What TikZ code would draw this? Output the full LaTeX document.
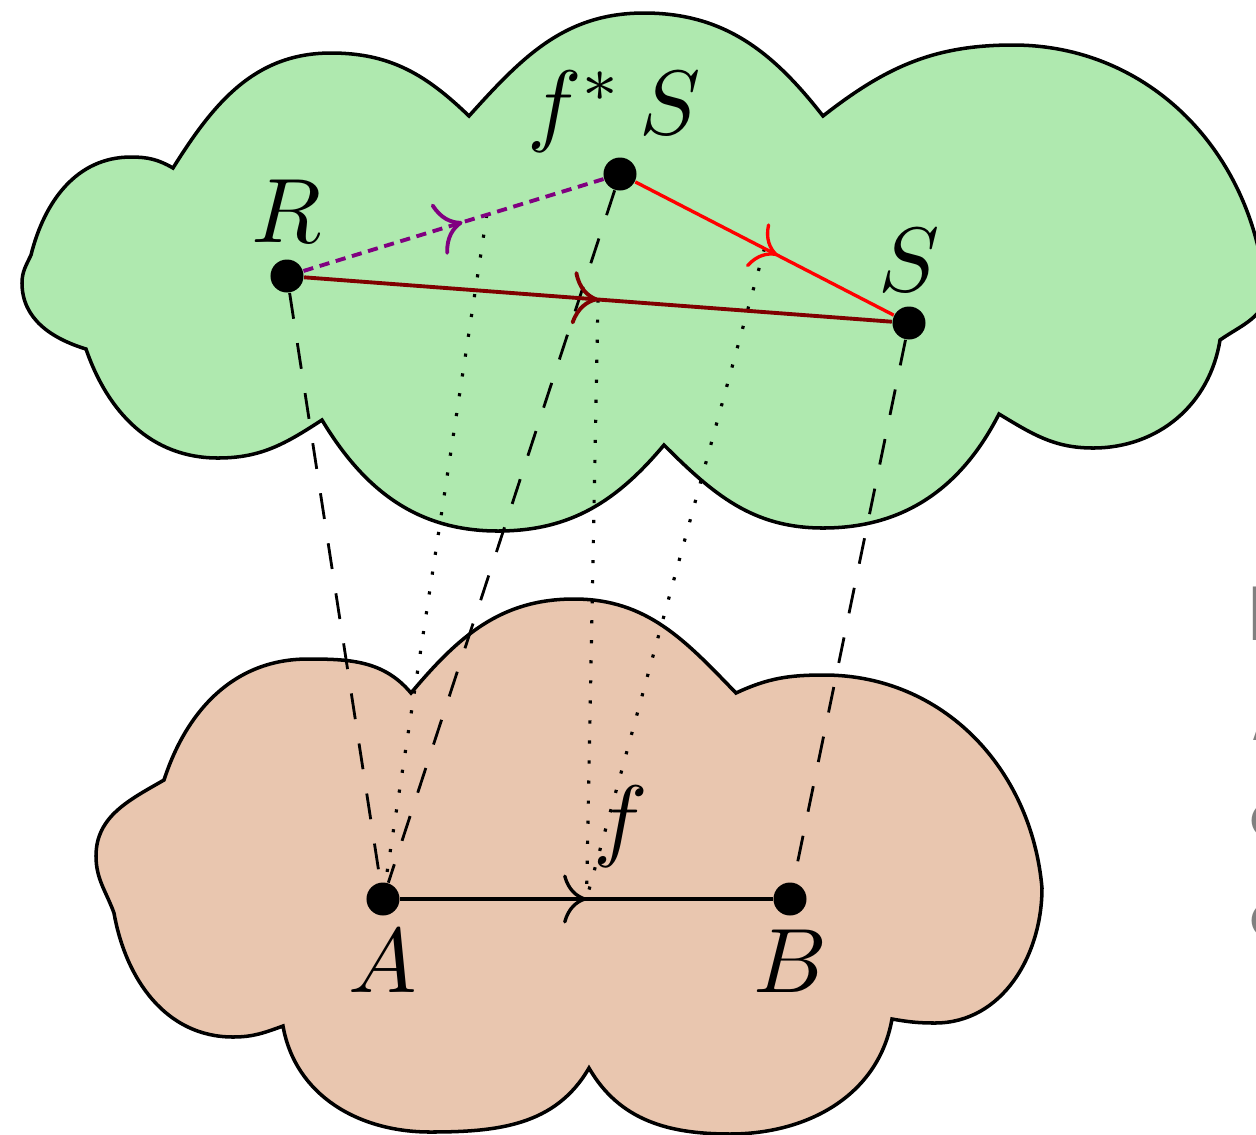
\documentclass[tikz,border=0pt]{standalone}
\usepackage{amsmath}
\usepackage{graphicx}
\usetikzlibrary{arrows.meta, positioning, calc, decorations.markings}

\definecolor{cloudgreen}{HTML}{AFE9AF}
\definecolor{cloudpeach}{HTML}{E9C6AF}
\definecolor{edgepurple}{HTML}{800080}
\definecolor{edgemaroon}{HTML}{800000}
\newcommand{\ptlabel}[1]{\scalebox{2.6}{$#1$}}

\begin{document}
\begin{tikzpicture}[
    x=0.01cm, y=0.01cm,
    cloud/.style={draw=black, line width=1pt},
    point/.style={circle, fill=black, inner sep=0pt, minimum size=0.33cm},
    lbl/.style={inner sep=0pt},
    frag/.style={inner sep=0pt, text=gray, font=\sffamily\fontsize{22}{26}\selectfont},
    edge/.style={line width=0.95pt},
    midarrow/.style={postaction={decorate}, decoration={markings,
        mark=at position #1 with {\arrow{To[scale=1.8]}}}},
    midarrow/.default=0.5,
    proj/.style={line width=0.8pt, dash pattern=on 7.4pt off 7pt},
    lift/.style={line width=0.9pt, dash pattern=on 0.9pt off 4.8pt},
]
\useasboundingbox (0,0) rectangle (1256,-1135);

% Upper cloud
\draw[cloud, fill=cloudgreen]
  (31,-255) to[out=76,in=180] (131,-157) to[out=0,in=150] (173,-168)
  to[out=58,in=180] (331,-53) to[out=0,in=136] (469,-116)
  to[out=48,in=180] (644,-13) to[out=0,in=128] (823,-116)
  to[out=38,in=180] (1013,-45) to[out=0,in=95] (1265,-290)
  to[out=-85,in=35] (1220,-340)
  to[out=-99,in=0] (1093,-448) to[out=180,in=-31] (999,-414)
  to[out=-117,in=0] (823,-528) to[out=180,in=-45] (664,-445)
  to[out=-130,in=0] (498,-531) to[out=180,in=-59] (322,-420)
  to[out=-147,in=0] (218,-458) to[out=180,in=-71] (86,-349)
  to[out=163,in=-90] (22,-283) to[out=90,in=-115] (31,-255) -- cycle;

% Lower cloud
\draw[cloud, fill=cloudpeach]
  (411,-693) to[out=50,in=180] (574,-599) to[out=0,in=134] (736,-693)
  to[out=25,in=180] (824,-675) to[out=0,in=95] (1042,-888)
  to[out=-90,in=0] (935,-1023) to[out=180,in=-10] (892,-1019)
  to[out=-100,in=0] (730,-1134) to[out=180,in=-60] (589,-1068)
  to[out=-120,in=0] (430,-1132) to[out=180,in=-80] (283,-1026)
  to[out=-160,in=0] (233,-1037) to[out=180,in=-80] (114,-913)
  to[out=110,in=-90] (96,-856) to[out=90,in=-150] (164,-780)
  to[out=72,in=180] (308,-659) to[out=0,in=130] (411,-693) -- cycle;

% Points
\node[point] (R) at (287,-276) {};
\node[point] (fS) at (620,-174) {};
\node[point] (S) at (909,-323) {};
\node[point] (A) at (383,-899) {};
\node[point] (B) at (790,-899) {};

% Labels
\node[lbl, above=0.33cm of R.center, anchor=base] (Rlab) {\ptlabel{R}};
\node[lbl, above=0.39cm of fS.center, anchor=base, xshift=-0.06cm] (fSlab) {\ptlabel{f^*\,S}};
\node[lbl, above=0.31cm of S.center, anchor=base] (Slab) {\ptlabel{S}};
\node[lbl, below=0.3cm of A.center] (Alab) {\ptlabel{A}};
\node[lbl, below=0.3cm of B.center] (Blab) {\ptlabel{B}};

% Midpoints
\coordinate (mRf) at ($(R)!0.6!(fS)$);
\coordinate (mRS) at ($(R)!0.5!(S)$);
\coordinate (mfS) at ($(fS)!0.5!(S)$);
\coordinate (mAB) at ($(A)!0.5!(B)$);
\node[lbl, above=0.49cm of mAB, anchor=base, xshift=0.34cm] (flab) {\ptlabel{f}};

% Projections
\draw[proj] (R) -- (A);
\draw[proj] (fS) -- (A);
\draw[proj] (S) -- (B);
\draw[lift] (mRf) -- (A);
\draw[lift] (mRS) -- (mAB);
\draw[lift] (mfS) -- (mAB);

% Edges
\draw[edge, edgepurple, line width=1.1pt, dash pattern=on 2.9pt off 1.9pt, midarrow=0.53] (R) -- (fS);
\draw[edge, red, midarrow=0.55] (fS) -- (S);
\draw[edge, edgemaroon, line width=1.1pt, midarrow] (R) -- (S);
\draw[edge, black, midarrow] (A) -- (B);

% Cut-off text at the right edge
\node[frag, anchor=base west] (fragE) at (1246,-640) {E};
\node[frag, anchor=base west] (fragA) at (1251,-740) {A};
\node[frag, anchor=base west] (fragC) at (1249,-837) {c};
\node[frag, anchor=base west] (fragD) at (1249,-937) {c};

\end{tikzpicture}
\end{document}
